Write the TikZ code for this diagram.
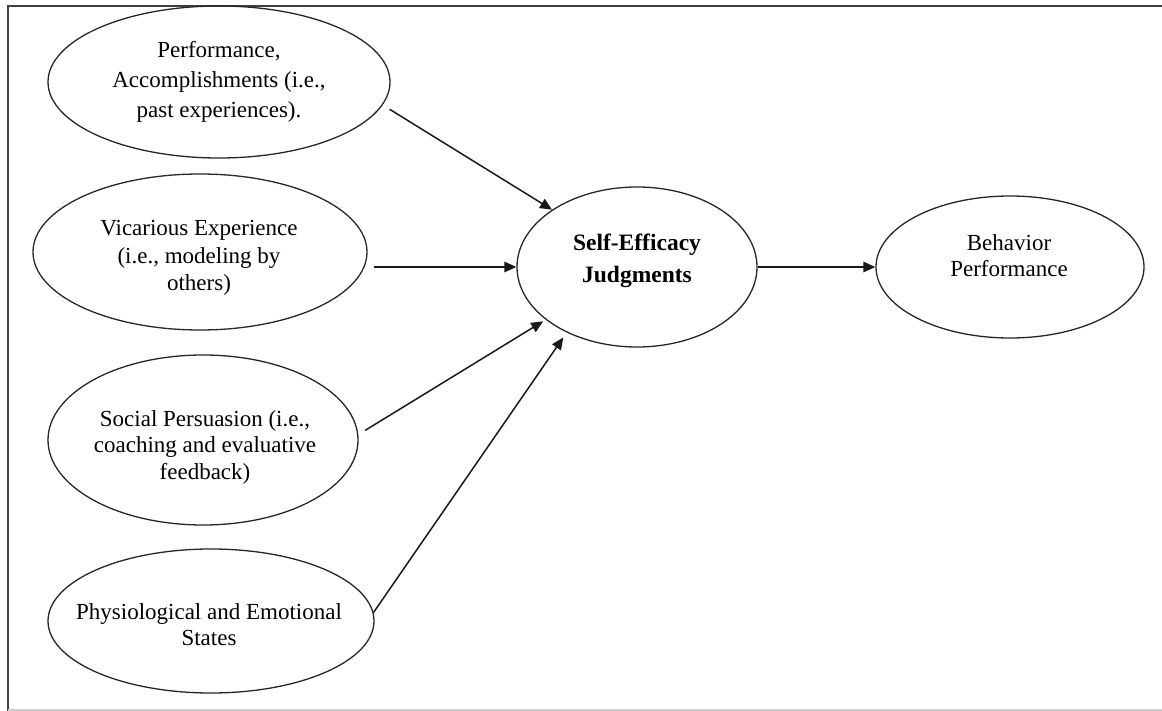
\documentclass[tikz,border=0pt]{standalone}
\usepackage{fontspec}
\setmainfont{Liberation Serif}
\usetikzlibrary{shapes.geometric,arrows.meta}
\begin{document}
\begin{tikzpicture}[x=1pt,y=-1pt,
  oval/.style={ellipse,draw=black!85,line width=1.3pt,inner sep=0pt},
  lbl/.style={align=center,inner sep=0pt,text=black},
  arr/.style={draw=black!90,line width=1.5pt,-{Triangle[length=12pt,width=10.5pt]}}]
\useasboundingbox (0,0) rectangle (1162,711);
% frame
\draw[black!75,line width=2pt] (1162,6) -- (8,6) -- (8,711);
\draw[black!20,line width=1.5pt] (8,710) -- (1162,710);

% ellipses
\node[oval,minimum width=342pt,minimum height=152pt] (perf) at (219,82) {};
\node[oval,minimum width=334pt,minimum height=156pt] (vic) at (200,252) {};
\node[oval,minimum width=310pt,minimum height=170pt] (soc) at (203,440) {};
\node[oval,minimum width=326pt,minimum height=144pt] (phys) at (211,621) {};
\node[oval,minimum width=240pt,minimum height=160pt] (se) at (637,267) {};
\node[oval,minimum width=268pt,minimum height=142pt] (beh) at (1010,267) {};

% texts
\node[lbl,font=\fontsize{23}{30}\selectfont] (perft) at (219,82)
  {Performance,\\Accomplishments (i.e.,\\past experiences).};
\node[lbl,font=\fontsize{23}{27.5}\selectfont] (vict) at (199,258)
  {Vicarious Experience\\(i.e., modeling by\\others)};
\node[lbl,font=\fontsize{23}{26.5}\selectfont] (soct) at (205,447)
  {Social Persuasion (i.e.,\\coaching and evaluative\\feedback)};
\node[lbl,font=\fontsize{23}{26}\selectfont] (physt) at (209,625)
  {Physiological and Emotional\\States};
\node[lbl,font=\fontsize{23.5}{32}\bfseries\selectfont] (set) at (637,261)
  {Self-Efficacy\\Judgments};
\node[lbl,font=\fontsize{23}{26}\selectfont] (beht) at (1009,256)
  {Behavior\\Performance};

% arrows
\draw[arr,shorten <=8pt] (perf.-8) -- (se.146);
\draw[arr,shorten <=6pt] (vic.east |- se.west) -- (se.west);
\draw[arr,shorten <=8pt,shorten >=3pt] (soc.2.5) -- (se.210);
\draw[arr,shorten >=6pt] (phys.3) -- (se.223);
\draw[arr] (se.east) -- (beh.west);
\end{tikzpicture}
\end{document}
